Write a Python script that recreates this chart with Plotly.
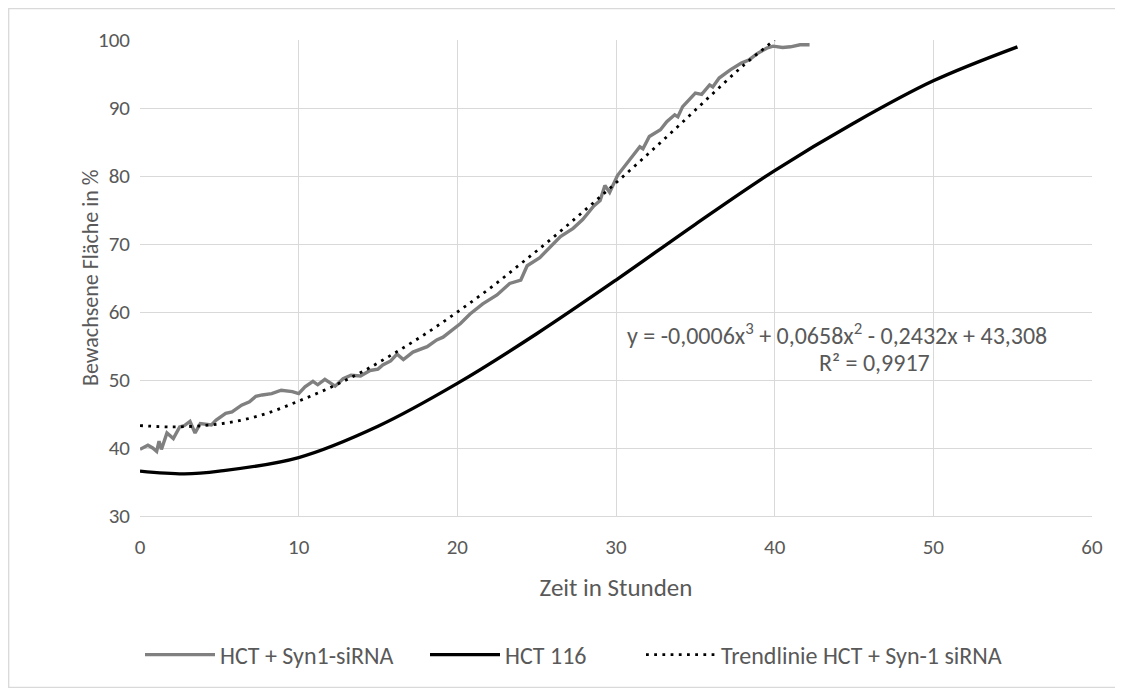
import plotly.graph_objects as go

# --- data ---
syn_x = [0, 0.5, 0.8, 1.05, 1.2, 1.35, 1.7, 2.1, 2.5, 2.8, 3.15, 3.47, 3.8, 4.5, 4.8,
         5.4, 5.8, 6.4, 6.9, 7.3, 7.7, 8.3, 8.9, 9.6, 10.0, 10.4, 10.9, 11.2, 11.65,
         12.3, 12.8, 13.3, 13.9, 14.5, 15.0, 15.3, 15.8, 16.2, 16.6, 17.2, 18.1, 18.7,
         19.1, 19.5, 20.2, 20.8, 21.6, 22.5, 23.0, 23.3, 24.0, 24.4, 25.2, 25.8, 26.5,
         27.3, 27.9, 28.6, 29.0, 29.3, 29.6, 30.1, 30.9, 31.5, 31.7, 32.1, 32.8, 33.2,
         33.7, 33.9, 34.2, 35.0, 35.4, 35.9, 36.1, 36.5, 37.2, 37.9, 38.4, 38.9, 39.5,
         39.9, 40.5, 41.0, 41.6, 42.2]
syn_y = [39.8, 40.4, 40.0, 39.5, 41.0, 39.8, 42.2, 41.4, 43.1, 43.3, 43.9, 42.2, 43.6, 43.4, 44.1,
         45.1, 45.3, 46.3, 46.8, 47.6, 47.8, 48.0, 48.5, 48.3, 48.0, 49.0, 49.8, 49.3, 50.1,
         49.1, 50.2, 50.7, 50.6, 51.4, 51.6, 52.2, 52.8, 53.8, 53.0, 54.1, 54.9, 55.9,
         56.3, 57.0, 58.3, 59.7, 61.2, 62.5, 63.6, 64.2, 64.7, 66.8, 68.0, 69.4, 71.1,
         72.3, 73.6, 75.6, 76.4, 78.6, 77.6, 80.1, 82.4, 84.3, 84.0, 85.8, 86.8, 88.0,
         89.0, 88.7, 90.2, 92.2, 92.0, 93.4, 93.1, 94.4, 95.6, 96.6, 97.1, 98.0, 98.8,
         99.1, 98.9, 99.0, 99.3, 99.3]

hct_x = [0, 2.8, 5, 10, 15, 20, 25, 30, 35, 40, 45, 50, 55.3]
hct_y = [36.6, 36.2, 36.6, 38.6, 43.2, 49.5, 56.8, 64.7, 72.9, 80.8, 87.8, 94.0, 99.0]

trend_x = [0, 2, 4, 6, 8, 10, 12, 14, 16, 18, 20, 22, 24, 26, 28, 30, 32, 34, 36, 38, 40]
trend_y = [43.3, 43.1, 43.3, 43.9, 45.1, 46.9, 48.9, 51.2, 53.9, 56.8, 60.0, 63.4, 67.1,
           70.9, 74.9, 79.0, 83.2, 87.5, 91.9, 96.2, 100.0]

x_ticks = [0, 10, 20, 30, 40, 50, 60]
y_ticks = [30, 40, 50, 60, 70, 80, 90, 100]

series_names = ["HCT + Syn1-siRNA", "HCT 116", "Trendlinie HCT + Syn-1 siRNA"]
equation_text = "y = -0,0006x<sup>3</sup> + 0,0658x<sup>2</sup> - 0,2432x + 43,308"
r2_text = "R² = 0,9917"

FONT = "Carlito, Calibri, Lato, sans-serif"
TXT = "#595959"
GRID = "#d9d9d9"

W, H = 1115, 680          # page body has an 8px margin
L, R, T, B = 132, 31, 32, 172
PW, PH = W - L - R, H - T - B
ITEM_W = 70

fig = go.Figure()
fig.add_trace(go.Scatter(x=syn_x, y=syn_y, mode="lines", name=series_names[0],
                         legend="legend",
                         line=dict(color="#808080", width=3.4)))
fig.add_trace(go.Scatter(x=hct_x, y=hct_y, mode="lines", name=series_names[1],
                         legend="legend2",
                         line=dict(color="#000000", width=3.4, shape="spline", smoothing=1.0)))
fig.add_trace(go.Scatter(x=trend_x, y=trend_y, mode="lines", name=series_names[2],
                         legend="legend3",
                         line=dict(color="#000000", width=2.8, dash="2.8px,5.4px",
                                   shape="spline", smoothing=1.0)))

LEG_Y = 1 - 647 / H
def leg(text_start_px):
    return dict(orientation="h", xref="container", yref="container",
                x=(text_start_px - 8 - ITEM_W - 10) / W, xanchor="left", y=LEG_Y, yanchor="middle",
                itemwidth=ITEM_W,
                font=dict(size=24, color=TXT, family=FONT), bgcolor="rgba(0,0,0,0)")

fig.update_layout(
    width=W, height=H,
    margin=dict(l=L, r=R, t=T, b=B),
    paper_bgcolor="white", plot_bgcolor="white",
    font=dict(family=FONT, size=21, color=TXT),
    showlegend=True,
    legend=leg(220), legend2=leg(505), legend3=leg(721),
    xaxis=dict(range=[0, 60], tickvals=x_ticks, showgrid=True, gridcolor=GRID, gridwidth=1.3,
               zeroline=False, showline=True, linecolor=GRID, linewidth=1.3, ticks="",
               ticklabelstandoff=12,
               tickfont=dict(size=21, color=TXT),
               title=dict(text="Zeit in Stunden", font=dict(size=25, color=TXT), standoff=19)),
    yaxis=dict(range=[30, 100], tickvals=y_ticks, showgrid=True, gridcolor=GRID, gridwidth=1.3,
               zeroline=False, showline=False, ticks="", ticklabelstandoff=9,
               tickfont=dict(size=21, color=TXT)),
    annotations=[
        dict(x=(90 - 8 - L) / PW, y=0.5, xref="paper", yref="paper",
             text="Bewachsene Fläche in %", textangle=-90, showarrow=False,
             xanchor="center", yanchor="middle", font=dict(size=22, color=TXT, family=FONT)),
        dict(x=43.9, y=59.4, xref="x", yref="y", text=equation_text, showarrow=False,
             xanchor="center", yanchor="top", font=dict(size=24, color=TXT, family=FONT)),
        dict(x=46.3, y=55.0, xref="x", yref="y", text=r2_text, showarrow=False,
             xanchor="center", yanchor="top", font=dict(size=24, color=TXT, family=FONT)),
    ],
    shapes=[dict(type="rect", xref="paper", yref="paper",
                 x0=(0.7 - L) / PW, x1=(W - 0.7 - L) / PW,
                 y0=-(B - 0.7) / PH, y1=(PH + T - 0.7) / PH,
                 line=dict(color=GRID, width=1.3), fillcolor="rgba(0,0,0,0)", layer="below")],
)

fig.write_html("out.html")
